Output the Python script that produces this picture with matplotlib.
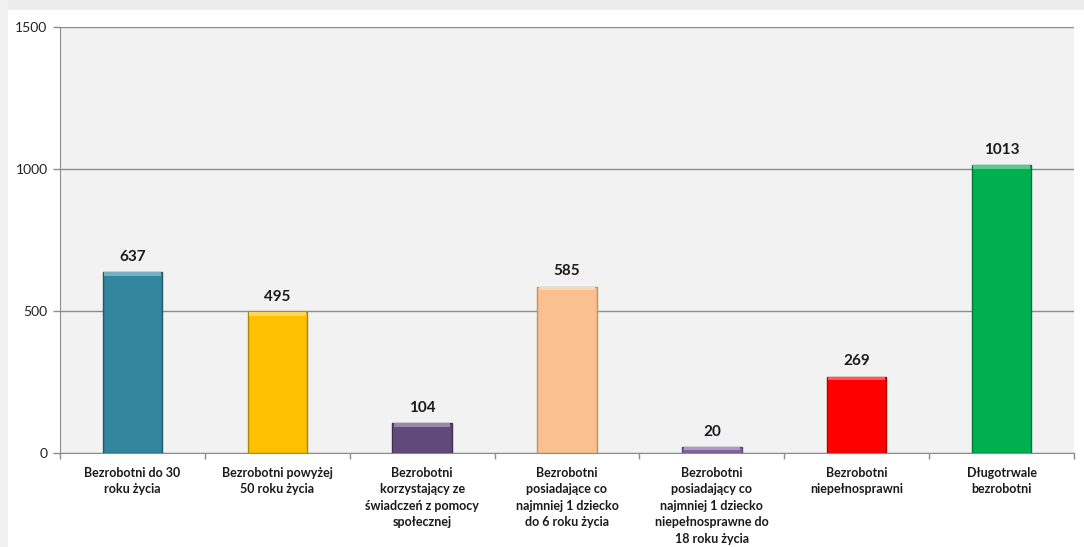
import matplotlib
matplotlib.use("Agg")
import matplotlib.pyplot as plt
from matplotlib.patches import Rectangle
import matplotlib.colors as mcolors

categories = [
    "Bezrobotni do 30\nroku życia",
    "Bezrobotni powyżej\n50 roku życia",
    "Bezrobotni\nkorzystający ze\nświadczeń z pomocy\nspołecznej",
    "Bezrobotni\nposiadające co\nnajmniej 1 dziecko\ndo 6 roku życia",
    "Bezrobotni\nposiadający co\nnajmniej 1 dziecko\nniepełnosprawne do\n18 roku życia",
    "Bezrobotni\nniepełnosprawni",
    "Długotrwale\nbezrobotni",
]
values = [637, 495, 104, 585, 20, 269, 1013]
colors = ["#31859C", "#FFC000", "#604A7B", "#FAC090", "#8064A2", "#FF0000", "#00B050"]
edges = ["#215968", "#B08600", "#3F3051", "#C0926A", "#5A4678", "#B00000", "#007A38"]
yticks = [0, 500, 1000, 1500]

plt.rcParams['font.family'] = ['Lato', 'DejaVu Sans']

fig = plt.figure(figsize=(10.84, 5.47), dpi=100)
fig.patch.set_facecolor("white")
fig.patches.append(Rectangle((0, 1 - 10/547), 1, 10/547, transform=fig.transFigure,
                             facecolor="#ececec", edgecolor="none", zorder=-1))
fig.patches.append(Rectangle((0, 0), 8/1084, 1, transform=fig.transFigure,
                             facecolor="#f0f0f0", edgecolor="none", zorder=-1))

ax = fig.add_axes([60/1084, 1 - 453/547, (1074-60)/1084, (453-27)/547])
ax.set_facecolor("#F2F2F2")
x = list(range(len(values)))
ax.bar(x, values, width=0.41, color=colors, edgecolor=edges, linewidth=1.0, zorder=3)

# subtle bevel highlight on top of each bar
bevel = 12
for xi, v, c in zip(x, values, colors):
    rgb = mcolors.to_rgb(c)
    light = tuple(min(1, ch + (1 - ch) * 0.35) for ch in rgb)
    h = min(bevel, v * 0.5)
    ax.bar(xi, h, bottom=v - h, width=0.41 - 0.02, color=light, linewidth=0, zorder=4)

for xi, v in zip(x, values):
    ax.text(xi, v + 30, str(v), ha="center", va="bottom", fontsize=11, fontweight="bold",
            color="#1a1a1a", zorder=5)

ax.set_xlim(-0.5, len(values) - 0.5)
ax.set_ylim(0, 1500)
ax.set_yticks(yticks)
ax.set_yticklabels([str(t) for t in yticks], fontsize=10, color="#222222")
ax.yaxis.grid(True, color="#8C8C8C", linewidth=1.0, zorder=1)
ax.set_axisbelow(True)

ax.set_xticks(x)
ax.set_xticklabels(categories, fontsize=9, fontweight="bold", color="#1a1a1a", linespacing=1.45)
ax.tick_params(axis="x", length=0, pad=10)
ax.set_xticks([i + 0.5 for i in range(-1, len(values))], minor=True)
ax.tick_params(axis="x", which="minor", length=4, color="#8C8C8C", width=1)
ax.tick_params(axis="y", length=5, color="#8C8C8C", width=1, pad=4)

for s in ["top", "right"]:
    ax.spines[s].set_visible(False)
ax.spines["left"].set_color("#8C8C8C")
ax.spines["bottom"].set_color("#8C8C8C")

fig.savefig("out.png", dpi=100)
